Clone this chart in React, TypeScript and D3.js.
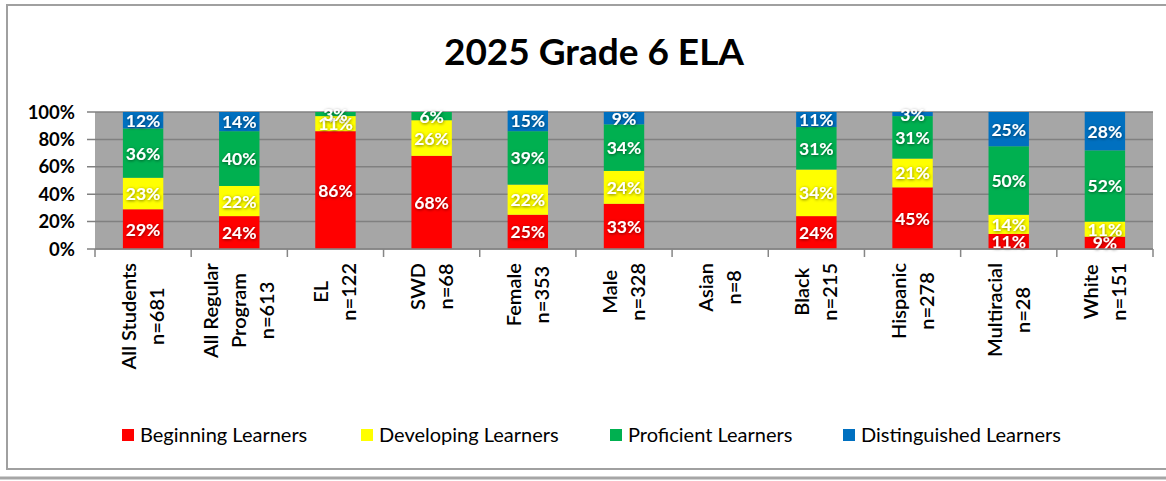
import * as d3 from "d3";
import { useEffect, useRef } from "react";

const width = 1166;
const height = 481;
const marginTop = 112;
const marginLeft = 95;
const plotRight = 1153;
const plotBottom = 249;

const title = "2025 Grade 6 ELA";
const categories = [
  ["All Students", "n=681"],
  ["All Regular", "Program", "n=613"],
  ["EL", "n=122"],
  ["SWD", "n=68"],
  ["Female", "n=353"],
  ["Male", "n=328"],
  ["Asian", "n=8"],
  ["Black", "n=215"],
  ["Hispanic", "n=278"],
  ["Multiracial", "n=28"],
  ["White", "n=151"],
];
const seriesNames = ["Beginning Learners", "Developing Learners", "Proficient Learners", "Distinguished Learners"];
const colors = ["#ff0000", "#ffff00", "#00b050", "#0070c0"];
const beginning = [29, 24, 86, 68, 25, 33, 0, 24, 45, 11, 9];
const developing = [23, 22, 11, 26, 22, 24, 0, 34, 21, 14, 11];
const proficient = [36, 40, 3, 6, 39, 34, 0, 31, 31, 50, 52];
const distinguished = [12, 14, 0, 0, 15, 9, 0, 11, 3, 25, 28];
const yTicks = [0, 0.2, 0.4, 0.6, 0.8, 1];

const font = "Lato, 'Open Sans', sans-serif";

const App = () => {
  const ref = useRef<SVGSVGElement>(null);

  useEffect(() => {
    const svg = d3.select(ref.current);
    svg.selectAll("*").remove();

    const keys = categories.map((c) => c.join(" "));
    const rows = keys.map((k, i) => ({
      key: k,
      s0: beginning[i] / 100,
      s1: developing[i] / 100,
      s2: proficient[i] / 100,
      s3: distinguished[i] / 100,
    }));

    const x = d3.scaleBand().domain(keys).range([marginLeft, plotRight]).paddingInner(0.58).paddingOuter(0.29);
    const step = (plotRight - marginLeft) / keys.length;
    const y = d3.scaleLinear().domain([0, 1]).range([plotBottom, marginTop]);

    const defs = svg.append("defs");
    const f = defs.append("filter").attr("id", "glow").attr("x", "-30%").attr("y", "-50%").attr("width", "160%").attr("height", "200%");
    f.append("feDropShadow").attr("dx", 0.5).attr("dy", 0.8).attr("stdDeviation", 1.4).attr("flood-color", "#000").attr("flood-opacity", 0.55);

    // outer frame
    svg.append("rect").attr("x", 7).attr("y", 5).attr("width", 1170).attr("height", 464)
      .attr("fill", "#fff").attr("stroke", "#a0a0a0").attr("stroke-width", 2);
    svg.append("line").attr("x1", 0).attr("x2", width).attr("y1", 478).attr("y2", 478)
      .attr("stroke", "#a6a6a6").attr("stroke-width", 3);

    svg.append("text").attr("x", 594).attr("y", 65).attr("text-anchor", "middle")
      .attr("font-family", font).attr("font-weight", 700).attr("font-size", 37).attr("fill", "#000")
      .text(title);

    // plot area
    svg.append("rect").attr("x", marginLeft).attr("y", marginTop)
      .attr("width", plotRight - marginLeft).attr("height", plotBottom - marginTop).attr("fill", "#a6a6a6");

    svg.append("g").selectAll("line").data(yTicks).join("line")
      .attr("x1", marginLeft - 8).attr("x2", plotRight)
      .attr("y1", (d) => y(d)).attr("y2", (d) => y(d))
      .attr("stroke", "#808080").attr("stroke-width", 1.5);

    svg.append("g").selectAll("text").data(yTicks).join("text")
      .attr("x", 75).attr("y", (d) => y(d) + 6.5).attr("text-anchor", "end")
      .attr("font-family", font).attr("font-weight", 700).attr("font-size", 18.5).attr("fill", "#000")
      .text((d) => d3.format(".0%")(d));

    // stacked bars
    const stack = d3.stack<any>().keys(["s0", "s1", "s2", "s3"]);
    const series = stack(rows);
    const g = svg.append("g");
    series.forEach((s, si) => {
      g.append("g").selectAll("rect").data(s.filter((d) => d[1] - d[0] > 0)).join("rect")
        .attr("x", (d) => x(d.data.key)!)
        .attr("width", x.bandwidth())
        .attr("y", (d) => y(d[1]))
        .attr("height", (d) => y(d[0]) - y(d[1]))
        .attr("fill", colors[si]);
    });
    series.forEach((s) => {
      g.append("g").selectAll("text").data(s.filter((d) => d[1] - d[0] > 0)).join("text")
        .attr("x", (d) => x(d.data.key)! + x.bandwidth() / 2)
        .attr("y", (d) => (y(d[0]) + y(d[1])) / 2 + 6.5)
        .attr("text-anchor", "middle")
        .attr("font-family", font).attr("font-weight", 700).attr("font-size", 17.5).attr("fill", "#fff")
        .attr("filter", "url(#glow)")
        .text((d) => Math.round((d[1] - d[0]) * 100) + "%");
    });

    // x axis
    svg.append("line").attr("x1", marginLeft).attr("x2", plotRight).attr("y1", plotBottom).attr("y2", plotBottom)
      .attr("stroke", "#868686").attr("stroke-width", 1.5);
    svg.append("g").selectAll("line").data(d3.range(keys.length + 1)).join("line")
      .attr("x1", (i) => marginLeft + i * step).attr("x2", (i) => marginLeft + i * step)
      .attr("y1", plotBottom).attr("y2", plotBottom + 8)
      .attr("stroke", "#868686").attr("stroke-width", 1.5);

    const lineGap = 28;
    categories.forEach((lines, i) => {
      const cx = x(keys[i])! + x.bandwidth() / 2;
      const lg = svg.append("g");
      const texts = lines.map((t) =>
        lg.append("text")
          .attr("font-family", font).attr("font-size", 20).attr("font-weight", 600).attr("fill", "#000")
          .attr("text-anchor", "middle")
          .text(t)
      );
      const maxLen = d3.max(texts, (t) => (t.node() as SVGTextElement).getComputedTextLength()) || 0;
      const cy = 263 + maxLen / 2;
      texts.forEach((t, j) => {
        const off = (j - (lines.length - 1) / 2) * lineGap + 7;
        t.attr("transform", `translate(${cx + off},${cy}) rotate(-90)`);
      });
    });

    // legend
    const legendX = [122, 361, 610, 843];
    const lg = svg.append("g");
    seriesNames.forEach((name, i) => {
      lg.append("rect").attr("x", legendX[i]).attr("y", 429).attr("width", 12).attr("height", 12).attr("fill", colors[i]);
      lg.append("text").attr("x", legendX[i] + 18).attr("y", 442)
        .attr("font-family", font).attr("font-size", 20).attr("fill", "#000")
        .text(name);
    });
  }, []);

  return (
    <svg ref={ref} width={width} height={height} style={{ position: "absolute", left: 0, top: 0, background: "#fff" }} />
  );
};

export default App;
